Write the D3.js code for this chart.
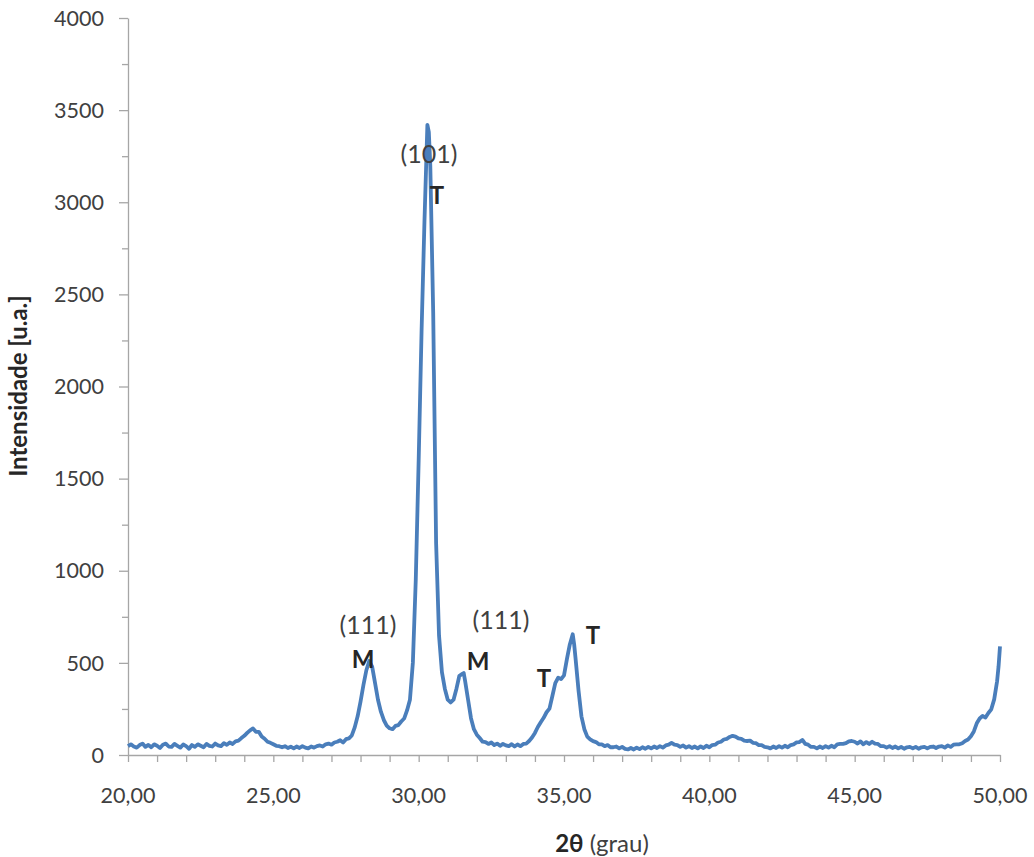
<!DOCTYPE html>
<html><head><meta charset="utf-8">
<script src="https://cdn.jsdelivr.net/npm/d3@7"></script>
<style>
html,body{margin:0;padding:0;background:#fff;}
svg text{font-family:Lato,"Open Sans",sans-serif;}
</style></head>
<body>
<svg id="c" width="1034" height="857"></svg>
<script>
// 2θ (deg) and intensity (a.u.)
const twoTheta = [20.0,20.1,20.2,20.3,20.4,20.5,20.6,20.7,20.8,20.9,21.0,21.1,21.2,21.3,21.4,21.5,21.6,21.7,21.8,21.9,
22.0,22.1,22.2,22.3,22.4,22.5,22.6,22.7,22.8,22.9,23.0,23.1,23.2,23.3,23.4,23.5,23.6,23.7,23.8,23.9,
24.0,24.1,24.2,24.3,24.4,24.5,24.6,24.7,24.8,24.9,25.0,25.1,25.2,25.3,25.4,25.5,25.6,25.7,25.8,25.9,
26.0,26.1,26.2,26.3,26.4,26.5,26.6,26.7,26.8,26.9,27.0,27.1,27.2,27.3,27.4,27.5,27.6,27.7,27.8,27.9,
28.0,28.1,28.2,28.3,28.4,28.5,28.6,28.7,28.8,28.9,29.0,29.1,29.2,29.3,29.4,29.5,29.6,29.7,29.8,29.9,
30.0,30.1,30.2,30.3,30.35,30.4,30.5,30.6,30.7,30.8,30.9,31.0,31.1,31.2,31.3,31.4,31.5,31.55,31.6,31.7,31.8,31.9,
32.0,32.1,32.2,32.3,32.4,32.5,32.6,32.7,32.8,32.9,33.0,33.1,33.2,33.3,33.4,33.5,33.6,33.7,33.8,33.9,
34.0,34.1,34.2,34.3,34.4,34.5,34.6,34.7,34.8,34.9,35.0,35.1,35.2,35.3,35.35,35.4,35.5,35.6,35.7,35.8,35.9,
36.0,36.1,36.2,36.3,36.4,36.5,36.6,36.7,36.8,36.9,37.0,37.1,37.2,37.3,37.4,37.5,37.6,37.7,37.8,37.9,
38.0,38.1,38.2,38.3,38.4,38.5,38.6,38.7,38.8,38.9,39.0,39.1,39.2,39.3,39.4,39.5,39.6,39.7,39.8,39.9,
40.0,40.1,40.2,40.3,40.4,40.5,40.6,40.7,40.8,40.9,41.0,41.1,41.2,41.3,41.4,41.5,41.6,41.7,41.8,41.9,
42.0,42.1,42.2,42.3,42.4,42.5,42.6,42.7,42.8,42.9,43.0,43.1,43.2,43.3,43.4,43.5,43.6,43.7,43.8,43.9,
44.0,44.1,44.2,44.3,44.4,44.5,44.6,44.7,44.8,44.9,45.0,45.1,45.2,45.3,45.4,45.5,45.6,45.7,45.8,45.9,
46.0,46.1,46.2,46.3,46.4,46.5,46.6,46.7,46.8,46.9,47.0,47.1,47.2,47.3,47.4,47.5,47.6,47.7,47.8,47.9,
48.0,48.1,48.2,48.3,48.4,48.5,48.6,48.7,48.8,48.9,49.0,49.1,49.2,49.3,49.4,49.5,49.6,49.7,49.8,49.9,49.95,50.0];

const intensity = [48,58,46,40,54,62,44,55,42,58,50,38,56,62,46,44,60,50,40,57,
48,34,54,44,58,50,42,60,50,46,62,52,48,64,55,68,60,74,78,92,
104,120,134,144,126,126,100,88,72,66,58,50,48,42,48,38,45,36,46,38,
48,40,36,46,40,48,52,46,58,62,56,68,72,80,68,86,90,106,150,210,
290,380,460,510,480,390,300,235,190,160,145,140,158,162,182,198,242,300,500,950,
1600,2300,2900,3420,3380,3200,2400,1150,650,450,360,300,285,300,360,430,440,445,400,300,200,140,
110,92,72,70,60,68,54,62,50,60,52,48,59,46,57,48,60,62,76,95,
120,152,178,202,232,252,320,390,420,412,432,520,600,655,600,520,350,210,140,100,85,
75,70,58,58,48,54,42,42,46,36,44,33,30,38,30,40,32,42,34,44,
36,46,38,48,40,52,56,66,56,54,44,52,40,48,38,46,36,47,38,50,
42,54,56,68,72,84,88,98,104,100,90,88,78,76,78,66,64,54,54,44,
42,36,46,38,48,40,50,42,54,58,68,70,82,60,56,44,44,36,46,38,
48,40,50,42,58,60,60,64,74,76,72,62,74,58,70,60,72,62,60,48,
48,40,48,38,46,36,44,34,42,44,36,44,34,42,44,36,44,46,38,46,
48,40,52,44,56,58,58,64,76,84,102,128,172,198,212,203,228,248,302,400,480,590];

const yTicks = [0,500,1000,1500,2000,2500,3000,3500,4000];
const xTicks = [20,25,30,35,40,45,50];

const svg = d3.select("#c");
const x = d3.scaleLinear().domain([20,50]).range([128,1000]);
const y = d3.scaleLinear().domain([0,4000]).range([755,18]);
const fmt = d => d.toFixed(2).replace(".", ",");
const axisColor = "#a6a6a6", textColor = "#404040";

// y axis
const yAxis = svg.append("g").attr("transform","translate(128,0)")
  .call(d3.axisLeft(y).tickValues(d3.range(0,4001,250)).tickSize(0).tickFormat(""));
yAxis.select(".domain").attr("stroke",axisColor).attr("stroke-width",1.3);
yAxis.selectAll(".tick line").remove();
yAxis.selectAll(".tick").append("line")
  .attr("x1", d => (d % 500 === 0) ? -9 : -6).attr("x2",0)
  .attr("stroke",axisColor).attr("stroke-width",1.3);
svg.append("g").selectAll("text").data(yTicks).join("text")
  .attr("x",104).attr("y",d=>y(d)).attr("dy","0.36em").attr("text-anchor","end")
  .attr("font-size",21.5).attr("fill",textColor).text(d=>d);

// x axis
const xAxis = svg.append("g").attr("transform","translate(0,755)")
  .call(d3.axisBottom(x).tickValues(d3.range(20,50.01,1)).tickSize(7).tickSizeOuter(0).tickFormat(""));
xAxis.select(".domain").attr("stroke",axisColor).attr("stroke-width",1.3);
xAxis.selectAll(".tick line").attr("stroke",axisColor).attr("stroke-width",1.3);
svg.append("g").selectAll("text").data(xTicks).join("text")
  .attr("x",d=>x(d)).attr("y",803).attr("text-anchor","middle")
  .attr("font-size",21.5).attr("fill",textColor).text(fmt);

// data line
const pts = twoTheta.map((t,k)=>[t,intensity[k]]);
svg.append("path").datum(pts)
  .attr("fill","none").attr("stroke","#4a7ebb").attr("stroke-width",3.8)
  .attr("stroke-linejoin","round")
  .attr("d", d3.line().x(d=>x(d[0])).y(d=>y(d[1])));

// peak annotations
const ann = [
  {text:"(101)", X:429, Y:163, bold:false},
  {text:"T", X:437, Y:204, bold:true},
  {text:"(111)", X:368, Y:634, bold:false},
  {text:"M", X:363, Y:668, bold:true},
  {text:"(111)", X:501, Y:629, bold:false},
  {text:"M", X:478, Y:670, bold:true},
  {text:"T", X:544, Y:687, bold:true},
  {text:"T", X:593, Y:644, bold:true}
];
svg.append("g").selectAll("text").data(ann).join("text")
  .attr("x",d=>d.X).attr("y",d=>d.Y).attr("text-anchor","middle")
  .attr("font-size",d=>d.bold?24:25).attr("font-weight",d=>d.bold?"bold":"normal")
  .attr("fill",d=>d.bold?"#262626":textColor).text(d=>d.text);

// axis titles
svg.append("text").attr("transform","translate(27,386) rotate(-90)")
  .attr("text-anchor","middle").attr("font-size",24).attr("font-weight","bold")
  .attr("fill","#262626").text("Intensidade [u.a.]");
const xt = svg.append("text").attr("x",602).attr("y",852).attr("text-anchor","middle")
  .attr("font-size",24).attr("fill",textColor);
xt.append("tspan").attr("font-weight","bold").attr("fill","#262626").text("2θ");
xt.append("tspan").text(" (grau)");
</script>
</body></html>
